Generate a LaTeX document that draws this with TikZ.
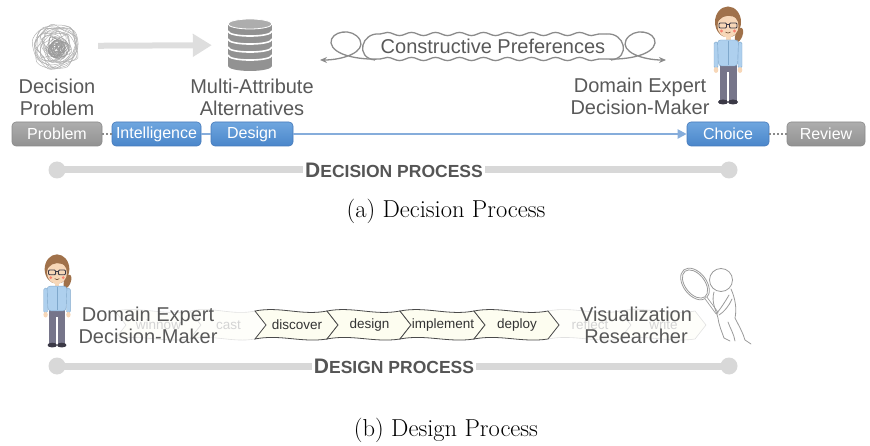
\documentclass[tikz,border=0pt]{standalone}
\usepackage{fontspec}
\setsansfont{Liberation Sans}
\usepackage{tikz}
\usetikzlibrary{arrows.meta,positioning,decorations.pathmorphing}

\definecolor{ink}{HTML}{595959}
\definecolor{barink}{HTML}{555555}
\definecolor{bargray}{HTML}{D8D8D8}
\definecolor{bluetop}{HTML}{6FA6DF}
\definecolor{bluebot}{HTML}{4A86CA}
\definecolor{blueedge}{HTML}{4579BA}
\definecolor{bluelink}{HTML}{86ADDB}
\definecolor{graytop}{HTML}{ADADAD}
\definecolor{graybot}{HTML}{929292}
\definecolor{grayedge}{HTML}{8A8A8A}
\definecolor{hair}{HTML}{A0714A}
\definecolor{skin}{HTML}{F7D7B8}
\definecolor{shirt}{HTML}{AED0EE}
\definecolor{shirtline}{HTML}{7FA8CC}
\definecolor{pants}{HTML}{76758A}
\definecolor{shoe}{HTML}{3B3946}
\definecolor{sketch}{HTML}{9A9A9A}
\definecolor{chevfill}{HTML}{FDFDF0}
\definecolor{chevedge}{HTML}{4A4A4A}
\definecolor{faint}{HTML}{D4D4D4}

\tikzstyle{word}=[font=\sffamily\fontsize{20}{22}\selectfont, text=ink, align=center, inner sep=0pt]
\tikzstyle{stage}=[rounded corners=4pt, minimum height=24pt, inner sep=0pt, text=white, font=\sffamily\fontsize{16}{18}\selectfont, line width=0.6pt]
\tikzstyle{bluestage}=[stage, draw=blueedge, top color=bluetop, bottom color=bluebot]
\tikzstyle{graystage}=[stage, draw=grayedge, top color=graytop, bottom color=graybot]
\tikzstyle{chev}=[font=\sffamily\fontsize{13.5}{15}\selectfont, inner sep=0pt]
\tikzstyle{timeline}=[line width=7pt, draw=bargray]
\tikzstyle{barlabel}=[fill=white, inner sep=2pt, text=barink, font=\sffamily\bfseries]
\tikzstyle{caption}=[font=\fontsize{24.5}{26}\selectfont, inner sep=0pt]
\tikzstyle{loopy}=[draw=sketch!90!black, line width=1.3pt]
\tikzstyle{dotlink}=[draw=grayedge, line width=2pt, dotted]
\tikzstyle{bluelink}=[draw=bluelink, line width=2pt]

\newcommand{\smallcaps}[2]{{\fontsize{21}{22}\selectfont #1}{\fontsize{17.5}{20}\selectfont #2}}
% one ribbon piece from x=#1 to x=#2
\newcommand{\chevpath}[2]{%
	(#1,311) .. controls (#1+0.35*#2-0.35*#1,306) and (#1+0.65*#2-0.65*#1,316) .. (#2,311) -- (#2+11,325) -- (#2,339)
	.. controls (#1+0.65*#2-0.65*#1,343) and (#1+0.35*#2-0.35*#1,334) .. (#1,339) -- (#1+11,325) -- cycle}

\tikzset{
  expert/.pic={
    % ponytail and back hair
    \fill[hair, rotate around={-20:(11,31)}] (11,31) ellipse [x radius=3.5, y radius=7.5];
    \fill[hair] (0,18) ellipse [x radius=13, y radius=15.5];
    \fill[skin] (-2.5,30) rectangle (2.5,38);
    % legs and shoes
    \fill[pants] (-8.5,60) rectangle (-0.8,97);
    \fill[pants] (0.8,60) rectangle (8.5,97);
    \fill[pants] (-8.5,60) rectangle (8.5,68);
    \fill[shoe] (-5,98) ellipse [x radius=5, y radius=2.5];
    \fill[shoe] (5,98) ellipse [x radius=5, y radius=2.5];
    % arms
    \filldraw[fill=shirt, draw=shirtline, line width=0.4pt, rounded corners=1.5pt] (-14,38) rectangle (-10,64);
    \filldraw[fill=shirt, draw=shirtline, line width=0.4pt, rounded corners=1.5pt] (10,38) rectangle (14,64);
    \fill[skin] (-12,66) ellipse [x radius=2.3, y radius=3];
    \fill[skin] (12,66) ellipse [x radius=2.3, y radius=3];
    % shirt
    \filldraw[fill=shirt, draw=shirtline, line width=0.4pt, rounded corners=3pt] (-10.5,36) -- (10.5,36) -- (9.5,62) -- (-9.5,62) -- cycle;
    \draw[shirtline, line width=0.4pt] (0,37) -- (0,61);
    % face
    \fill[skin] (0,22) ellipse [x radius=10.5, y radius=11.5];
    \fill[hair] (-12.5,21) .. controls (-14,1) and (14,1) .. (12.5,21) .. controls (10,12) and (1,10) .. (-5,13) .. controls (-8,15) and (-10.5,17) .. (-12.5,21) -- cycle;
    \draw[shoe, line width=0.9pt, rounded corners=1pt] (-9,19) rectangle (-1.5,24) (1.5,19) rectangle (9,24) (-1.5,20.5) -- (1.5,20.5);
    \fill[red!40!skin] (-6.5,27) circle [radius=1.6] (6.5,27) circle [radius=1.6];
    \draw[hair!70!black, line width=0.6pt] (-2.5,28) .. controls (-1,29.5) and (1,29.5) .. (2.5,28);
  },
  researcher/.pic={
    \begin{scope}[draw=sketch, line width=0.8pt, line cap=round]
      \draw (1,0) circle [radius=11.5];
      \draw[rotate around={38:(-25,4)}] (-25,4) ellipse [x radius=11.5, y radius=18];
      \draw[rotate around={38:(-25,4)}] (-25,4) ellipse [x radius=9.8, y radius=16.2];
      \draw[double=white, double distance=1.6pt] (-14,18) -- (-3,33);
      \draw (-6,12) .. controls (-9,22) and (-4,30) .. (-2,38) .. controls (-1,46) and (2,52) .. (4,58) -- (10,61);
      \draw (11,9) .. controls (15,18) and (17,28) .. (15,38) .. controls (19,46) and (23,53) .. (25,60) -- (31,64);
      \draw (8,42) .. controls (10,48) and (14,54) .. (15,61);
      \draw (9,15) .. controls (5,22) and (1,28) .. (-3,33);
      \draw (12,19) .. controls (9,26) and (4,32) .. (-1,35);
    \end{scope}
  }
}

\begin{document}
\begin{tikzpicture}[x=1pt, y=-1pt]
	\useasboundingbox (0,0) rectangle (870,446);

	% --- decision process ---
	% scribbled problem
	\node[minimum size=44pt](mess) at (56,46) {};
	\pgfmathsetseed{5}
	\foreach \i in {1,...,14}{
		\pgfmathsetmacro\r{9+rnd*13}
		\pgfmathsetmacro\ph{rnd*360}
		\draw[sketch!80!white, line width=0.45pt] plot[smooth cycle, domain=0:330, samples=9]
			({56+\r*cos(\x+\ph)+rand*4}, {46+\r*sin(\x+\ph)+rand*4});
	}
	\foreach \i in {1,...,22}{
		\pgfmathsetmacro\r{2+rnd*8}
		\pgfmathsetmacro\ph{rnd*360}
		\draw[sketch, line width=0.45pt] plot[smooth cycle, domain=0:300, samples=7]
			({57+\r*cos(\x+\ph)+rand*3}, {48+\r*sin(\x+\ph)+rand*3});
	}

	% stacked alternatives
	\node[minimum width=44pt, minimum height=46pt](alts) at (250,45) {};
	\fill[graybot] (228,24) rectangle (272,66);
	\fill[graybot] (250,66) ellipse [x radius=22, y radius=5];
	\foreach \y in {31,39,47,55}
		\draw[white, line width=1.6pt] (228,\y) .. controls (228,\y+6.7) and (272,\y+6.7) .. (272,\y);
	\filldraw[fill=graytop, draw=white, line width=0.8pt] (250,24) ellipse [x radius=22, y radius=5];

	\draw[draw=bargray!85!white, line width=6pt, -{Triangle[length=19pt, width=22pt]}, shorten <=20pt, shorten >=16pt] (mess) -- (alts);

	\node[word](probtext) at (57,97) {Decision\\Problem};
	\node[word](altstext) at (252,97) {Multi-Attribute\\Alternatives};
	\node[word](dmtext) at (640,96) {Domain Expert\\Decision-Maker};

	% constructive preferences
	\node[word](prefs) at (493,46) {Constructive Preferences};
	\draw[loopy, decorate, decoration={snake, amplitude=1.6pt, segment length=24pt}] (380,34) -- (606,34);
	\draw[loopy, decorate, decoration={snake, amplitude=1.6pt, segment length=24pt}] (380,59) -- (606,59);
	\foreach \s in {-1,1}{
		\begin{scope}[shift={(493,0)}, xscale=\s]
			\draw[loopy] (113,34) .. controls (132,32) and (138,58) .. (118,60);
			\draw[loopy, -{Stealth[length=7pt, width=6pt]}] (113,59) .. controls (135,60) and (160,55) .. (162,43)
				.. controls (163,31) and (140,27) .. (133,40) .. controls (127,52) and (150,60) .. (173,60);
		\end{scope}
	}

	\pic at (728,4) {expert};

	% stages
	\node[graystage, minimum width=90pt](problem) at (57,134) {Problem};
	\node[bluestage, minimum width=89pt](intel) at (156.5,134) {Intelligence};
	\node[bluestage, minimum width=82pt](design) at (252,134) {Design};
	\node[bluestage, minimum width=82pt](choice) at (728,134) {Choice};
	\node[graystage, minimum width=78pt](review) at (826,134) {Review};
	\draw[dotlink] (problem) -- (intel);
	\draw[bluelink] (intel) -- (design);
	\draw[bluelink, -{Triangle[length=9pt, width=9pt]}] (design) -- (choice);
	\draw[dotlink] (choice) -- (review);

	\coordinate (decl) at (57,170);
	\coordinate (decr) at (729,170);
	\draw[timeline] (decl) -- (decr);
	\fill[bargray] (decl) circle [radius=8.5] (decr) circle [radius=8.5];
	\node[barlabel](declabel) at (394,170) {\smallcaps{D}{ECISION PROCESS}};
	\node[caption](capa) at (446,211) {(a) Decision Process};

	% --- design process ---
	% faded steps first, then the four active ones
	\foreach \a/\b/\name in {115/190/winnow, 190/255/cast, 548/620/reflect, 620/695/write}{
		\filldraw[fill=chevfill!35!white, draw=faint!70!white, line width=0.6pt] \chevpath{\a}{\b};
		\node[chev, text=faint](c-\name) at ({(\a+\b)/2+6},325) {\name};
	}
	\foreach \a/\b/\name in {255/327/discover, 327/400/design, 400/474/implement, 474/548/deploy}{
		\filldraw[fill=chevfill, draw=chevedge, line width=0.8pt] \chevpath{\a}{\b};
		\node[chev, text=black!80](c-\name) at ({(\a+\b)/2+6},325) {\name};
	}

	\node[word](dm2text) at (148,325) {Domain Expert\\Decision-Maker};
	\node[word](vrtext) at (636,325) {Visualization\\Researcher};
	\pic[scale=0.95] at (57,252) {expert};
	\pic at (720,280) {researcher};

	\coordinate (desl) at (57,366);
	\coordinate (desr) at (729,366);
	\draw[timeline] (desl) -- (desr);
	\fill[bargray] (desl) circle [radius=8.5] (desr) circle [radius=8.5];
	\node[barlabel](deslabel) at (394,366) {\smallcaps{D}{ESIGN PROCESS}};
	\node[caption](capb) at (446,430) {(b) Design Process};
\end{tikzpicture}
\end{document}
